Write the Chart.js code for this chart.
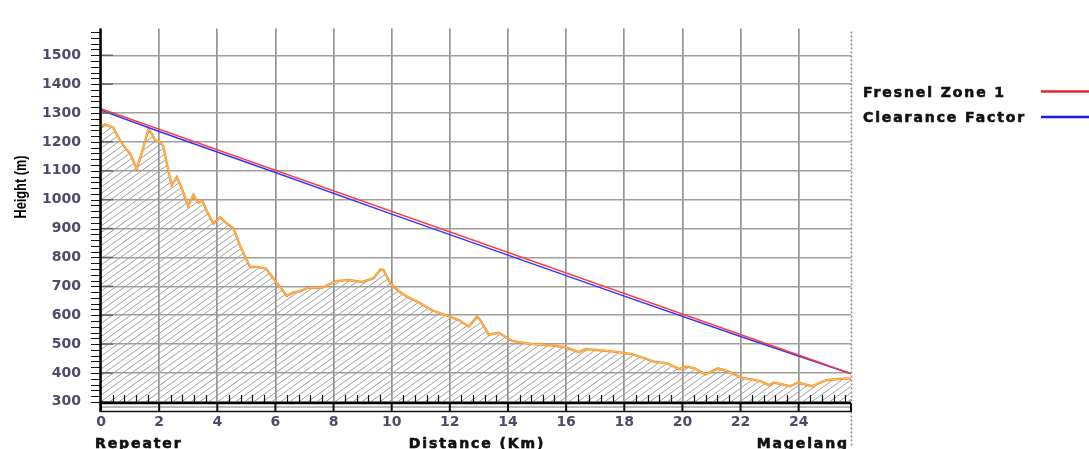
<!DOCTYPE html>
<html>
<head>
<meta charset="utf-8">
<script src="https://cdn.jsdelivr.net/npm/chart.js@4.4.1/dist/chart.umd.min.js"></script>
<style>
  html, body { margin: 0; padding: 0; background: #ffffff; }
  #wrap { width: 1089px; height: 449px; }
</style>
</head>
<body>
<div id="wrap"><canvas id="c" width="1089" height="449"></canvas></div>
<script>
// ---- data ----
const distanceKm = [0.00,0.13,0.42,0.65,0.88,1.00,1.23,1.40,1.63,1.75,1.86,2.03,2.15,2.26,2.43,2.61,2.78,3.00,3.18,3.35,3.49,3.64,3.87,4.10,4.33,4.56,4.79,5.13,5.42,5.68,6.07,6.39,6.62,6.85,7.14,7.60,8.06,8.52,8.98,9.38,9.61,9.72,9.95,10.24,10.58,10.93,11.39,11.85,12.31,12.65,12.94,13.05,13.34,13.68,14.14,14.83,15.52,15.98,16.44,16.67,17.24,17.81,18.27,18.73,19.02,19.48,19.90,20.14,20.40,20.80,21.23,21.55,22.03,22.69,22.98,23.15,23.70,23.98,24.45,24.95,25.33,25.80];
const terrainM = [1252,1261,1250,1206,1172,1161,1106,1161,1245,1228,1206,1200,1183,1128,1050,1078,1039,978,1017,989,995,961,917,939,917,900,839,767,767,761,709,667,679,683,695,695,717,722,715,728,759,756,711,683,661,645,617,600,583,561,595,583,533,539,511,500,495,489,472,483,478,472,465,450,439,433,413,422,417,395,416,406,384,372,358,367,354,367,354,375,379,381];
const fresnelKm = [0, 25.8];
const fresnelM = [1315, 398];
const clearanceKm = [0, 2, 6, 10, 14, 18, 22, 25.8];
const clearanceM = [1310, 1236, 1094, 950, 808, 666, 526, 397];
const xTicks = [0, 2, 4, 6, 8, 10, 12, 14, 16, 18, 20, 22, 24];
const yTicks = [300, 400, 500, 600, 700, 800, 900, 1000, 1100, 1200, 1300, 1400, 1500];
const legendLabels = ["Fresnel Zone 1", "Clearance Factor"];
const legendColors = ["#ee2222", "#1a1aee"];
const xTitle = "Distance (Km)";
const leftSite = "Repeater";
const rightSite = "Magelang";
const yTitle = "Height (m)";

const pts = (xs, ys) => xs.map((x, i) => ({ x: x, y: ys[i] }));

// hatch pattern
function makeHatch() {
  const H = 6.5;
  const t = document.createElement('canvas');
  t.width = 18; t.height = 13;
  const g = t.getContext('2d');
  g.strokeStyle = '#9e9e9e';
  g.lineWidth = 1;
  for (let k = -3; k <= 3; k++) {
    g.beginPath();
    g.moveTo(-18, 13 + k * H + 13);
    g.lineTo(36, k * H - 13);
    g.stroke();
  }
  return g.createPattern(t, 'repeat');
}

const FONT = '"DejaVu Sans", Verdana, sans-serif';

function boldText(ctx, s, x, y) {
  ctx.fillText(s, x, y);
  ctx.strokeText(s, x, y);
}

const decor = {
  id: 'decor',
  afterDraw(chart) {
    const ctx = chart.ctx;
    const ca = chart.chartArea;
    const xs = chart.scales.x, ys = chart.scales.y;
    const L = ca.left, B = ca.bottom, R = ca.right, T = ca.top;
    ctx.save();
    // dotted right border
    ctx.strokeStyle = '#8a8a8a';
    ctx.lineWidth = 1.5;
    ctx.setLineDash([2, 2]);
    ctx.beginPath(); ctx.moveTo(R + 0.5, T + 3); ctx.lineTo(R + 0.5, 447); ctx.stroke();
    ctx.setLineDash([]);
    // y minor ticks (left)
    ctx.strokeStyle = '#111';
    ctx.lineWidth = 1;
    for (let v = 300; v <= 1580; v += 20) {
      const y = Math.round(ys.getPixelForValue(v)) + 0.5;
      ctx.beginPath(); ctx.moveTo(L - 10, y); ctx.lineTo(L, y); ctx.stroke();
    }
    // y major ticks (right side stub)
    ctx.strokeStyle = '#666';
    ctx.lineWidth = 1.5;
    for (const v of yTicks) {
      const y = ys.getPixelForValue(v);
      ctx.beginPath(); ctx.moveTo(L, y); ctx.lineTo(L + 12, y); ctx.stroke();
    }
    // x minor ticks above the axis
    ctx.strokeStyle = '#111';
    ctx.lineWidth = 1.2;
    for (let i = 1; i * 0.4 < xs.max; i++) {
      if (i % 5 === 0) continue;
      const x = Math.round(xs.getPixelForValue(i * 0.4)) + 0.5;
      ctx.beginPath(); ctx.moveTo(x, B - 8); ctx.lineTo(x, B); ctx.stroke();
    }
    // ruler band
    ctx.strokeStyle = '#777';
    ctx.lineWidth = 1;
    ctx.beginPath(); ctx.moveTo(L, B + 4); ctx.lineTo(R, B + 4); ctx.stroke();
    ctx.strokeStyle = '#111';
    ctx.lineWidth = 1.3;
    ctx.beginPath(); ctx.moveTo(L, B + 8.5); ctx.lineTo(R, B + 8.5); ctx.stroke();
    ctx.lineWidth = 2;
    const majors = xTicks.concat([xs.max]);
    for (const k of majors) {
      const x = xs.getPixelForValue(k);
      ctx.beginPath(); ctx.moveTo(x, B); ctx.lineTo(x, B + 9); ctx.stroke();
    }
    // axes lines
    ctx.lineWidth = 2.5;
    ctx.strokeStyle = '#000';
    ctx.beginPath(); ctx.moveTo(L - 0.5, T); ctx.lineTo(L - 0.5, B + 9); ctx.stroke();
    ctx.beginPath(); ctx.moveTo(L - 1.5, B); ctx.lineTo(R, B); ctx.stroke();

    // texts
    ctx.fillStyle = '#111';
    ctx.strokeStyle = '#111';
    ctx.lineWidth = 0.6;
    ctx.font = 'bold 14px ' + FONT;
    try { ctx.letterSpacing = '1.9px'; } catch (e) {}
    ctx.textBaseline = 'alphabetic';
    ctx.textAlign = 'left';
    boldText(ctx, leftSite, 95, 448);
    boldText(ctx, legendLabels[0], 863, 97);
    boldText(ctx, legendLabels[1], 863, 122);
    ctx.textAlign = 'center';
    boldText(ctx, xTitle, 477, 448);
    ctx.textAlign = 'right';
    boldText(ctx, rightSite, 849, 448);
    try { ctx.letterSpacing = '0px'; } catch (e) {}

    // legend lines
    ctx.lineWidth = 2.5;
    ctx.strokeStyle = legendColors[0];
    ctx.beginPath(); ctx.moveTo(1041, 91.5); ctx.lineTo(1089, 91.5); ctx.stroke();
    ctx.strokeStyle = legendColors[1];
    ctx.beginPath(); ctx.moveTo(1041, 117); ctx.lineTo(1089, 117); ctx.stroke();

    // y title, condensed
    ctx.save();
    ctx.translate(21, 187);
    ctx.rotate(-Math.PI / 2);
    ctx.font = 'bold 17px "Liberation Sans", Arial, sans-serif';
    const w = ctx.measureText(yTitle).width;
    ctx.scale(63 / w, 1);
    ctx.textAlign = 'center';
    ctx.textBaseline = 'middle';
    ctx.fillStyle = '#000';
    ctx.fillText(yTitle, 0, 0);
    ctx.restore();

    ctx.restore();
  }
};

const hatch = makeHatch();

new Chart(document.getElementById('c'), {
  type: 'line',
  data: {
    datasets: [
      { label: legendLabels[0], data: pts(fresnelKm, fresnelM), borderColor: '#ff3b3b', borderWidth: 1.5, pointRadius: 0, fill: false, order: 0 },
      { label: legendLabels[1], data: pts(clearanceKm, clearanceM), borderColor: '#3434ff', borderWidth: 1.5, pointRadius: 0, fill: false, order: 1 },
      { label: 'terrain-inner', data: pts(distanceKm, terrainM), borderColor: '#fcc88c', borderWidth: 0.8, pointRadius: 0, fill: false, order: 2 },
      { label: 'terrain', data: pts(distanceKm, terrainM), borderColor: '#f7931e', borderWidth: 2.4, pointRadius: 0, fill: 'start', backgroundColor: hatch, order: 3 }
    ]
  },
  options: {
    responsive: false,
    animation: false,
    devicePixelRatio: 1,
    layout: { padding: { top: 14, right: 238, left: 0, bottom: 0 } },
    plugins: { legend: { display: false }, tooltip: { enabled: false } },
    elements: { line: { tension: 0 } },
    scales: {
      x: {
        type: 'linear', min: 0, max: 25.8,
        afterBuildTicks: (s) => { s.ticks = xTicks.map(v => ({ value: v })); },
        afterFit: (s) => { s.height = 46; },
        border: { display: false },
        grid: { color: '#949494', lineWidth: 1.7, drawTicks: false },
        ticks: { autoSkip: false, callback: (v) => String(v), padding: 11, color: '#4c4c6a', font: { family: FONT, size: 14, weight: 'bold' }, maxRotation: 0 }
      },
      y: {
        type: 'linear', min: 296, max: 1593,
        afterBuildTicks: (s) => { s.ticks = yTicks.map(v => ({ value: v })); },
        afterFit: (s) => { s.width = 101; },
        border: { display: false },
        grid: { color: '#a0a0a0', lineWidth: 1.5, drawTicks: false },
        ticks: { autoSkip: false, callback: (v) => String(v), padding: 20, color: '#4c4c6a', font: { family: FONT, size: 14, weight: 'bold' } }
      }
    }
  },
  plugins: [decor]
});
</script>
</body>
</html>
